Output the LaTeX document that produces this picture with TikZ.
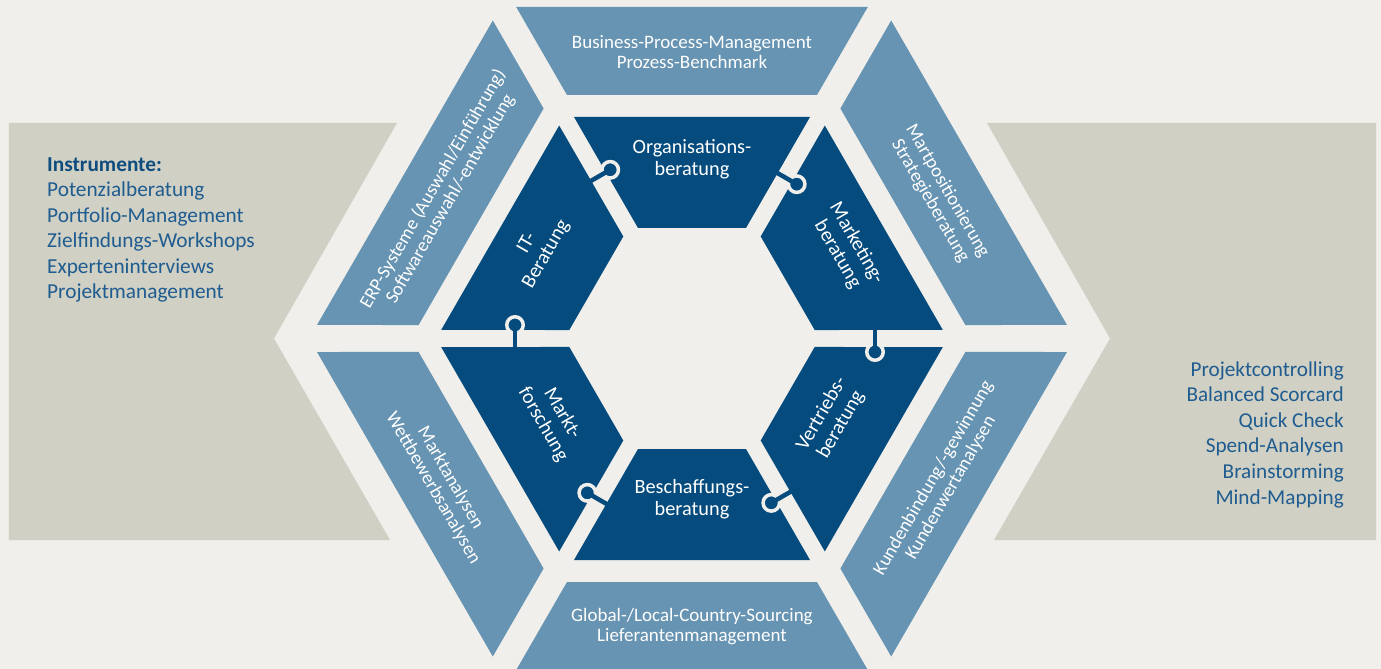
\documentclass[tikz,border=0pt]{standalone}
\usepackage{fontspec}
\setmainfont{Carlito}
\usetikzlibrary{calc}

\definecolor{bgcol}{HTML}{F0EFEB}
\definecolor{boxcol}{HTML}{D0D0C4}
\definecolor{outercol}{HTML}{6794B2}
\definecolor{innercol}{HTML}{054B7D}
\definecolor{headcol}{HTML}{0E4D7E}
\definecolor{listcol}{HTML}{1F5C90}

\tikzset{
  innerpiece/.style={fill=innercol},
  outerpiece/.style={fill=outercol},
  innerlabel/.style={text=white, align=center, inner sep=0pt, font=\fontsize{20.3}{22}\selectfont},
  outerlabel/.style={text=white, align=center, inner sep=0pt, font=\fontsize{19}{20}\selectfont},
  knob/.style={circle, draw=bgcol, fill=innercol, line width=3.5pt, minimum size=16.5pt, inner sep=0pt},
  stub/.style={draw=innercol, line width=4.5pt}
}

\begin{document}
\begin{tikzpicture}[x=1pt, y=1pt]
\useasboundingbox (-692,-330.5) rectangle (689,338.5);
\fill[bgcol] (-692,-330.5) rectangle (689,338.5);

% grey side fields
\fill[boxcol] (-683,215.5) -- (-295,215.5) -- (-418,0) -- (-302,-201.5) -- (-683,-201.5) -- cycle;
\fill[boxcol] (684,215.5) -- (295,215.5) -- (418,0) -- (302,-201.5) -- (684,-201.5) -- cycle;

% outer ring
\fill[outerpiece] (-125,243.5) -- (-175.8,331.5) -- (175.8,331.5) -- (125,243.5) -- cycle;
\fill[outerpiece, rotate=-60] (-125,243.5) -- (-175.8,331.5) -- (175.8,331.5) -- (125,243.5) -- cycle;
\fill[outerpiece, rotate=-120] (-125,243.5) -- (-175.8,331.5) -- (175.8,331.5) -- (125,243.5) -- cycle;
\fill[outerpiece, rotate=180] (-125,243.5) -- (-175.8,331.5) -- (175.8,331.5) -- (125,243.5) -- cycle;
\fill[outerpiece, rotate=120] (-125,243.5) -- (-175.8,331.5) -- (175.8,331.5) -- (125,243.5) -- cycle;
\fill[outerpiece, rotate=60] (-125,243.5) -- (-175.8,331.5) -- (175.8,331.5) -- (125,243.5) -- cycle;

% inner ring
\fill[innerpiece] (-54,110.5) -- (-118,221.5) -- (118,221.5) -- (54,110.5) -- cycle;
\fill[innerpiece, rotate=-60] (-54,110.5) -- (-118,221.5) -- (118,221.5) -- (54,110.5) -- cycle;
\fill[innerpiece, rotate=-120] (-54,110.5) -- (-118,221.5) -- (118,221.5) -- (54,110.5) -- cycle;
\fill[innerpiece, rotate=180] (-54,110.5) -- (-118,221.5) -- (118,221.5) -- (54,110.5) -- cycle;
\fill[innerpiece, rotate=120] (-54,110.5) -- (-118,221.5) -- (118,221.5) -- (54,110.5) -- cycle;
\fill[innerpiece, rotate=60] (-54,110.5) -- (-118,221.5) -- (118,221.5) -- (54,110.5) -- cycle;

% knobs between the inner pieces
\coordinate (s1) at ($(120:187)+(210:10)$);
\coordinate (s2) at ($(60:186)+(150:10)$);
\coordinate (s3) at ($(0:183)+(90:10)$);
\coordinate (s4) at ($(-60:182)+(30:10)$);
\coordinate (s5) at ($(-120:186)+(-30:10)$);
\coordinate (s6) at ($(180:177)+(-90:10)$);
\node[knob] (k1) at ($(120:187)+(30:13.5)$) {};
\node[knob] (k2) at ($(60:186)+(-30:13.5)$) {};
\node[knob] (k3) at ($(0:183)+(-90:13.5)$) {};
\node[knob] (k4) at ($(-60:182)+(-150:13.5)$) {};
\node[knob] (k5) at ($(-120:186)+(150:13.5)$) {};
\node[knob] (k6) at ($(180:177)+(90:13.5)$) {};
\draw[stub] (k1.center) -- (s1);
\draw[stub] (k2.center) -- (s2);
\draw[stub] (k3.center) -- (s3);
\draw[stub] (k4.center) -- (s4);
\draw[stub] (k5.center) -- (s5);
\draw[stub] (k6.center) -- (s6);

% inner labels
\node[innerlabel] (orga) at (90:179) {Organisations-\\beratung};
\node[innerlabel, rotate=-60] (mark) at (30:179) {Marketing-\\beratung};
\node[innerlabel, rotate=60] (vert) at (-30:161) {Vertriebs-\\beratung};
\node[innerlabel] (besch) at (-90:161) {Beschaffungs-\\beratung};
\node[innerlabel, rotate=-60] (mafo) at (-150:161) {Markt-\\forschung};
\node[innerlabel, rotate=60] (itb) at (150:179) {IT-\\Beratung};

% outer labels
\node[outerlabel] (bpm) at (90:286) {Business-Process-Management\\Prozess-Benchmark};
\node[outerlabel, rotate=-60] (strat) at (30:285) {Martpositionierung\\Strategieberatung};
\node[outerlabel, rotate=60] (kunde) at (-30:289) {Kundenbindung/-gewinnung\\Kundenwertanalysen};
\node[outerlabel] (sourc) at (-90:288.5) {Global-/Local-Country-Sourcing\\Lieferantenmanagement};
\node[outerlabel, rotate=-60] (wettb) at (-150:289) {Marktanalysen\\Wettbewerbsanalysen};
\node[outerlabel, rotate=60] (erp) at (150:289) {ERP-Systeme (Auswahl/Einführung)\\Softwareauswahl/-entwicklung};

% instrument lists
\node[anchor=base west, align=left, inner sep=0pt, text=listcol, font=\fontsize{21.3}{25.5}\selectfont] (instr) at (-645,39.5)
  {\textcolor{headcol}{\textbf{Instrumente:}}\\Potenzialberatung\\Portfolio-Management\\Zielfindungs-Workshops\\Experteninterviews\\Projektmanagement};
\node[anchor=base east, align=right, inner sep=0pt, text=listcol, font=\fontsize{21.2}{25.6}\selectfont] (instr2) at (652,-165.5)
  {Projektcontrolling\\Balanced Scorcard\\Quick Check\\Spend-Analysen\\Brainstorming\\Mind-Mapping};
\end{tikzpicture}
\end{document}
